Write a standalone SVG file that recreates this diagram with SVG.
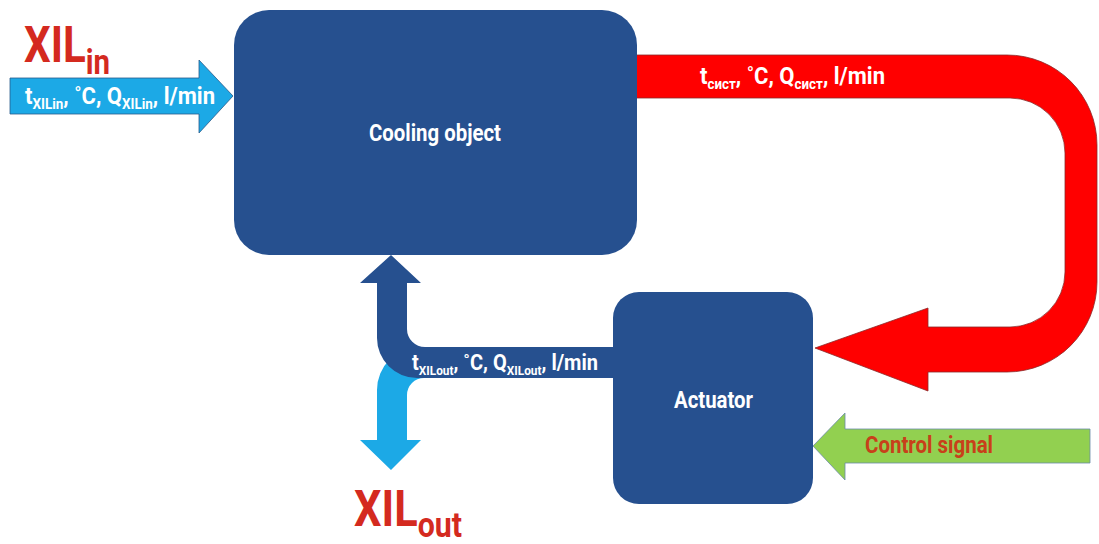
<svg xmlns="http://www.w3.org/2000/svg" width="1099" height="544" viewBox="0 0 1099 544">
<style>
.t{font-family:Roboto,"Liberation Sans",sans-serif;font-weight:bold;fill:#fff}
.big{font-family:Roboto,"Liberation Sans",sans-serif;font-weight:bold;fill:#D42A1F}
.node{fill:#26508F}
</style>
<rect width="1099" height="544" fill="#fff"/>
<g id="connectors">
<path id="red-loop" d="M 620 55 L 1007 55 A 90 90 0 0 1 1097 145 L 1097 282 A 90 90 0 0 1 1007 372 L 928 372 L 928 391 L 815 348 L 928 308 L 928 327 L 1010 327 A 55 55 0 0 0 1065 272 L 1065 153 A 55 55 0 0 0 1010 98 L 620 98 Z" fill="#FF0000" stroke="#8a2a2a" stroke-width="0.8"/>
<path id="in-arrow" d="M 10 78 L 199 78 L 199 60 L 233 96 L 199 133 L 199 114 L 10 114 Z" fill="#1CA9E6" stroke="#2a5a8a" stroke-width="0.8"/>
<path id="out-arrow" d="M 440 347 L 420 347 A 43 43 0 0 0 377 390 L 377 440 L 360 440 L 391 470 L 421 440 L 407 440 L 407 395 A 17 17 0 0 1 424 378 L 440 378 Z" fill="#1CA9E6"/>
<path id="return-arrow" d="M 630 347 L 425 347 A 18 18 0 0 1 407 329 L 407 283 L 421 283 L 391 255 L 360 283 L 377 283 L 377 338 A 40 40 0 0 0 417 378 L 630 378 Z" fill="#26508F"/>
<path id="control-arrow" d="M 1090 429 L 845 429 L 845 413 L 813 446 L 845 480 L 845 463 L 1090 463 Z" fill="#92D050" stroke="#6a8aa8" stroke-width="0.8"/>
<text class="t" x="25" y="104" font-size="23" textLength="190" lengthAdjust="spacingAndGlyphs">t<tspan font-size="14" dy="5">XILin</tspan><tspan dy="-5">,  ˚C, Q</tspan><tspan font-size="14" dy="5">XILin</tspan><tspan dy="-5">, l/min</tspan></text>
<text class="t" x="700" y="84" font-size="23" textLength="185" lengthAdjust="spacingAndGlyphs">t<tspan font-size="14" dy="5">сист</tspan><tspan dy="-5">,  ˚C, Q</tspan><tspan font-size="14" dy="5">сист</tspan><tspan dy="-5">, l/min</tspan></text>
<text class="t" x="412" y="370" font-size="22" textLength="186" lengthAdjust="spacingAndGlyphs">t<tspan font-size="13" dy="5">XILout</tspan><tspan dy="-5">,  ˚C, Q</tspan><tspan font-size="13" dy="5">XILout</tspan><tspan dy="-5">, l/min</tspan></text>
<text style="font-family:Roboto,'Liberation Sans',sans-serif;font-weight:bold;fill:#C8401A" x="865" y="453" font-size="23" textLength="128" lengthAdjust="spacingAndGlyphs">Control signal</text>
</g>
<g id="cooling-object">
<rect class="node" x="234" y="10" width="403" height="245" rx="35"/>
<text class="t" x="369" y="141" font-size="23" textLength="132" lengthAdjust="spacingAndGlyphs">Cooling object</text>
</g>
<g id="actuator">
<rect class="node" x="613" y="292" width="200" height="212" rx="26"/>
<text class="t" x="674" y="408" font-size="23" textLength="79" lengthAdjust="spacingAndGlyphs">Actuator</text>
</g>
<g id="labels">
<text class="big" x="24" y="62" font-size="50" textLength="86" lengthAdjust="spacingAndGlyphs">XIL<tspan font-size="35" dy="12">in</tspan></text>
<text class="big" x="354" y="526" font-size="50" textLength="108" lengthAdjust="spacingAndGlyphs">XIL<tspan font-size="35" dy="11">out</tspan></text>
</g>
</svg>
